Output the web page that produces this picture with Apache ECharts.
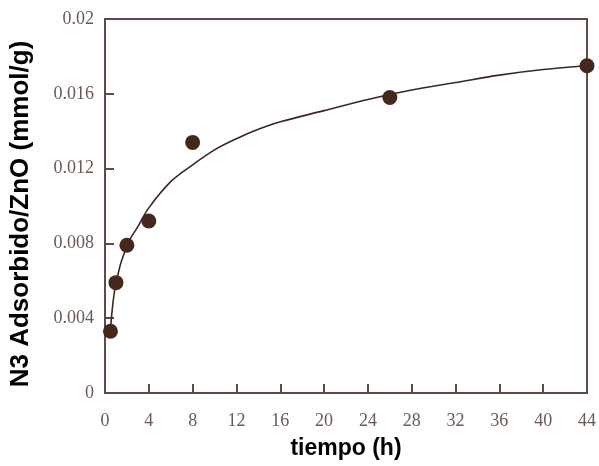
<!DOCTYPE html>
<html>
<head>
<meta charset="utf-8">
<script src="https://cdn.jsdelivr.net/npm/echarts@6/dist/echarts.min.js"></script>
<style>
  html, body { margin: 0; padding: 0; background: #fff; }
  #chart { width: 599px; height: 466px; }
</style>
</head>
<body>
<div id="chart"></div>
<script>
// measured points
var timeH = [0.5, 1, 2, 4, 8, 26, 44];
var adsorbed = [0.0033, 0.0059, 0.0079, 0.0092, 0.0134, 0.0158, 0.0175];

// fitted curve
var fitTime = [0.5, 1, 2, 3, 4, 6, 8, 10, 12, 14, 16, 20, 24, 28, 32, 36, 40, 44];
var fitValues = [0.0034, 0.0059, 0.0079, 0.0089, 0.0099, 0.0113, 0.0122, 0.0130, 0.0136, 0.0141, 0.0145, 0.0151, 0.0157, 0.0162, 0.0166, 0.0170, 0.0173, 0.0175];

var axisColor = '#5e4b43';
var labelColor = '#6a5a52';

function pairs(xs, ys) {
    return xs.map(function (x, i) { return [x, ys[i]]; });
}

var chart = echarts.init(document.getElementById('chart'));
var option = {
    animation: false,
    grid: {
        left: 104,
        right: 12,
        top: 19,
        bottom: 73,
        show: true,
        borderColor: axisColor,
        borderWidth: 2
    },
    xAxis: {
        type: 'value',
        min: 0,
        max: 44,
        interval: 4,
        name: 'tiempo (h)',
        nameLocation: 'middle',
        nameGap: 44,
        nameTextStyle: {
            fontFamily: 'Liberation Sans',
            fontWeight: 'bold',
            fontSize: 23,
            color: '#000'
        },
        splitLine: { show: false },
        axisLine: { lineStyle: { color: axisColor, width: 2 } },
        axisTick: { inside: true, length: 9, lineStyle: { color: axisColor, width: 2 } },
        axisLabel: {
            margin: 19,
            fontFamily: 'Liberation Serif',
            fontSize: 18,
            color: labelColor
        }
    },
    yAxis: {
        type: 'value',
        min: 0,
        max: 0.02,
        interval: 0.004,
        name: 'N3 Adsorbido/ZnO (mmol/g)',
        nameLocation: 'middle',
        nameGap: 71,
        nameTextStyle: {
            fontFamily: 'Liberation Sans',
            fontWeight: 'bold',
            fontSize: 26,
            color: '#000',
            padding: [0, 16, 0, 0]
        },
        splitLine: { show: false },
        axisLine: { lineStyle: { color: axisColor, width: 2 } },
        axisTick: { inside: true, length: 9, lineStyle: { color: axisColor, width: 2 } },
        axisLabel: {
            margin: 11,
            fontFamily: 'Liberation Serif',
            fontSize: 18,
            color: labelColor,
            formatter: function (v) { return String(+v.toFixed(3)); }
        }
    },
    series: [
        {
            type: 'line',
            data: pairs(fitTime, fitValues),
            smooth: 0.35,
            showSymbol: false,
            lineStyle: { color: '#3b2720', width: 1.6 },
            z: 2
        },
        {
            type: 'scatter',
            data: pairs(timeH, adsorbed),
            symbolSize: 15,
            itemStyle: { color: '#45281c', opacity: 1 },
            z: 3
        }
    ]
};
chart.setOption(option);
</script>
</body>
</html>
